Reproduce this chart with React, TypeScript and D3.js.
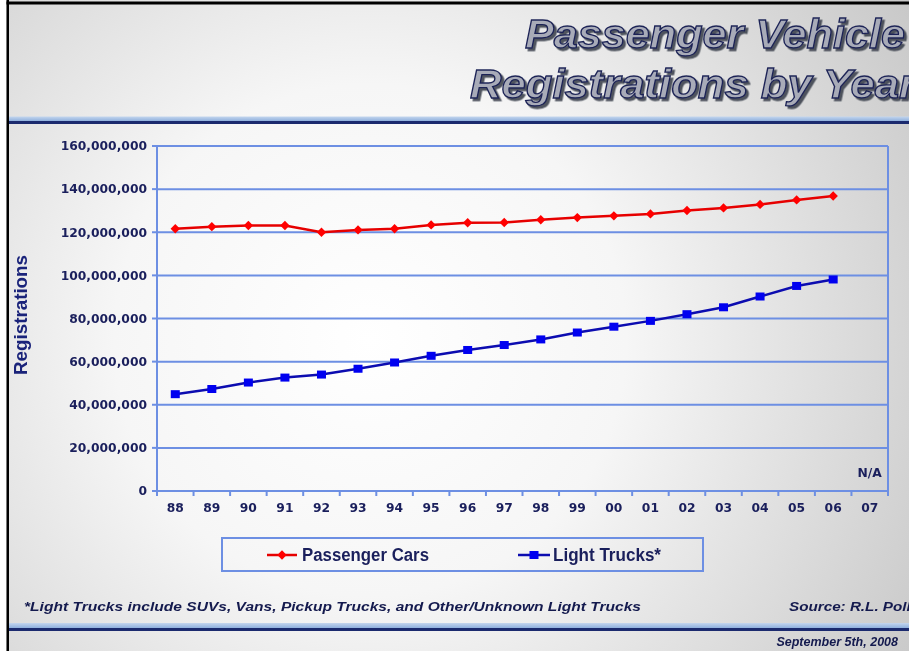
import React from "react";
import * as d3 from "d3";

// Registrations in units of vehicles, model years 1988–2007 (2007 not available)
const years = ["88", "89", "90", "91", "92", "93", "94", "95", "96", "97", "98", "99", "00", "01", "02", "03", "04", "05", "06", "07"];
const passengerCars = [121.6, 122.6, 123.1, 123.1, 120.0, 121.1, 121.6, 123.4, 124.4, 124.5, 125.8, 126.8, 127.6, 128.5, 130.1, 131.3, 132.9, 135.0, 136.8, null];
const lightTrucks = [44.9, 47.3, 50.3, 52.6, 54.0, 56.7, 59.6, 62.7, 65.4, 67.7, 70.3, 73.5, 76.2, 78.9, 82.0, 85.2, 90.2, 95.1, 98.1, null];
const yTicks = [0, 20, 40, 60, 80, 100, 120, 140, 160];
const seriesNames = ["Passenger Cars", "Light Trucks*"];

const W = 909;
const H = 651;
const plot = { left: 157, right: 888, top: 146, bottom: 491 };
const gridColor = "#6d8fe3";
const navy = "#1a1f5c";
const tickFont = "'DejaVu Sans', Verdana, sans-serif";
const arial = "'Liberation Sans', Arial, sans-serif";

export default function App() {
  const x = d3.scaleBand<string>().domain(years).range([plot.left, plot.right]).padding(0);
  const y = d3.scaleLinear().domain([0, 160]).range([plot.bottom, plot.top]);
  const fmt = d3.format(",");
  const cx = (i: number) => (x(years[i]) as number) + x.bandwidth() / 2;

  const line = d3
    .line<number | null>()
    .defined((d) => d != null)
    .x((_, i) => cx(i))
    .y((d) => y(d as number));

  // square turned 45° gives an even diamond marker
  const diamond = d3.symbol().type(d3.symbolSquare).size(44)() as string;

  const boundaries = years.map((yr) => x(yr) as number).concat([plot.right]);

  return (
    <svg
      width={W}
      height={H}
      style={{ position: "fixed", left: 0, top: 0, display: "block" }}
      xmlns="http://www.w3.org/2000/svg"
    >
      <defs>
        <radialGradient id="bg" gradientUnits="userSpaceOnUse" cx={370} cy={340} r={640}>
          <stop offset="0" stopColor="#ffffff" />
          <stop offset="0.4" stopColor="#f6f6f6" />
          <stop offset="1" stopColor="#c8c8c8" />
        </radialGradient>
        <linearGradient id="rule" x1="0" x2="0" y1="0" y2="1">
          <stop offset="0" stopColor="#c4d6ee" />
          <stop offset="1" stopColor="#8fb0de" />
        </linearGradient>
        <filter id="titleShadow" x="-5%" y="-20%" width="115%" height="150%">
          <feDropShadow dx={2.5} dy={2.5} stdDeviation={0.6} floodColor="#3e4250" floodOpacity={0.9} />
        </filter>
      </defs>

      <rect x={0} y={0} width={W} height={H} fill="url(#bg)" />

      {/* slide frame */}
      <rect x={0} y={0} width={6.5} height={H} fill="#ffffff" />
      <rect x={6.5} y={0} width={2.5} height={H} fill="#000000" />
      <rect x={6.5} y={1.5} width={W} height={3} fill="#000000" />

      {/* header rule */}
      <rect x={9} y={116.5} width={W} height={4.5} fill="url(#rule)" />
      <rect x={9} y={121} width={W} height={3} fill="#1b2a6e" />

      {/* footer rule */}
      <rect x={9} y={623} width={W} height={5} fill="url(#rule)" />
      <rect x={9} y={628} width={W} height={3} fill="#1b2a6e" />

      {/* title */}
      <g
        fontFamily={arial}
        fontWeight="bold"
        fontStyle="italic"
        fontSize={40}
        fill="#a8abb8"
        stroke="#1c2356"
        strokeWidth={1.3}
        filter="url(#titleShadow)"
      >
        <text x={525} y={48} textLength={380} lengthAdjust="spacingAndGlyphs">
          Passenger Vehicle
        </text>
        <text x={470} y={98} textLength={446} lengthAdjust="spacingAndGlyphs">
          Registrations by Year
        </text>
      </g>

      {/* gridlines and y ticks */}
      {yTicks.map((t) => (
        <g key={t}>
          <line x1={plot.left} x2={plot.right} y1={y(t)} y2={y(t)} stroke={gridColor} strokeWidth={2} />
          <line x1={plot.left - 5} x2={plot.left} y1={y(t)} y2={y(t)} stroke={gridColor} strokeWidth={2} />
          <text
            x={147}
            y={y(t)}
            dy="0.35em"
            textAnchor="end"
            fontFamily={tickFont}
            fontWeight="bold"
            fontSize={12.3}
            fill={navy}
          >
            {fmt(t * 1e6)}
          </text>
        </g>
      ))}

      {/* plot frame */}
      <line x1={plot.left} x2={plot.left} y1={plot.top} y2={plot.bottom + 5} stroke={gridColor} strokeWidth={2} />
      <line x1={plot.right} x2={plot.right} y1={plot.top} y2={plot.bottom + 5} stroke={gridColor} strokeWidth={2} />

      {/* x ticks and labels */}
      {boundaries.map((b, i) => (
        <line key={i} x1={b} x2={b} y1={plot.bottom} y2={plot.bottom + 5} stroke={gridColor} strokeWidth={2} />
      ))}
      {years.map((yr, i) => (
        <text
          key={yr}
          x={cx(i)}
          y={512}
          textAnchor="middle"
          fontFamily={tickFont}
          fontWeight="bold"
          fontSize={12.3}
          fill={navy}
        >
          {yr}
        </text>
      ))}

      {/* year without data */}
      {years.map((yr, i) =>
        passengerCars[i] == null && lightTrucks[i] == null ? (
          <text
            key={"na" + yr}
            x={cx(i)}
            y={477}
            textAnchor="middle"
            fontFamily={tickFont}
            fontWeight="bold"
            fontSize={12.3}
            fill={navy}
          >
            N/A
          </text>
        ) : null
      )}

      {/* y axis title */}
      <text
        transform="translate(27,315) rotate(-90)"
        textAnchor="middle"
        fontFamily={arial}
        fontWeight="bold"
        fontSize={18}
        textLength={120}
        lengthAdjust="spacingAndGlyphs"
        fill="#1a237a"
      >
        Registrations
      </text>

      {/* series */}
      <path d={line(passengerCars) as string} fill="none" stroke="#e60000" strokeWidth={2.5} />
      {passengerCars.map((v, i) =>
        v == null ? null : (
          <path key={i} d={diamond} transform={`translate(${cx(i)},${y(v)}) rotate(45)`} fill="#ff0000" />
        )
      )}
      <path d={line(lightTrucks) as string} fill="none" stroke="#0c0cb0" strokeWidth={2.5} />
      {lightTrucks.map((v, i) =>
        v == null ? null : (
          <rect key={i} x={cx(i) - 4.5} y={y(v) - 4} width={9} height={8} fill="#0000f0" />
        )
      )}

      {/* legend */}
      <rect x={222} y={538} width={481} height={33} fill="none" stroke={gridColor} strokeWidth={2} />
      <line x1={267} x2={297} y1={555} y2={555} stroke="#e60000" strokeWidth={2.5} />
      <path d={diamond} transform="translate(282,555) rotate(45)" fill="#ff0000" />
      <text x={302} y={561} fontFamily={arial} fontWeight="bold" fontSize={17.5} fill={navy} textLength={127} lengthAdjust="spacingAndGlyphs">
        {seriesNames[0]}
      </text>
      <line x1={518} x2={550} y1={555} y2={555} stroke="#0c0cb0" strokeWidth={2.5} />
      <rect x={529.5} y={551} width={9} height={8} fill="#0000f0" />
      <text x={553} y={561} fontFamily={arial} fontWeight="bold" fontSize={17.5} fill={navy} textLength={108} lengthAdjust="spacingAndGlyphs">
        {seriesNames[1]}
      </text>

      {/* footnotes */}
      <g fontFamily={arial} fontWeight="bold" fontStyle="italic" fontSize={12.5} fill="#141a4e">
        <text x={24} y={611} textLength={617} lengthAdjust="spacingAndGlyphs">
          *Light Trucks include SUVs, Vans, Pickup Trucks, and Other/Unknown Light Trucks
        </text>
        <text x={789} y={611} textLength={126} lengthAdjust="spacingAndGlyphs">
          Source: R.L. Polk
        </text>
        <text x={898} y={646} textAnchor="end">
          September 5th, 2008
        </text>
      </g>
    </svg>
  );
}
